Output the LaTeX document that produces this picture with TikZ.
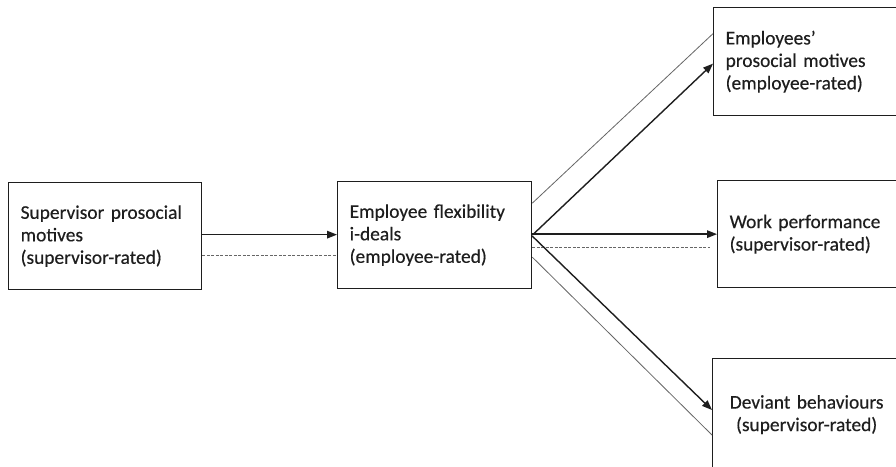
\documentclass[tikz,border=0pt]{standalone}
\usepackage{fontspec}
\setmainfont[FakeBold=0.35,WordSpace=0.75]{Carlito}
\usetikzlibrary{arrows.meta}
\definecolor{ink}{HTML}{1E1E1E}
\definecolor{thin}{HTML}{666666}
\tikzset{
  box/.style={draw=ink, line width=1.3pt, anchor=north west, inner xsep=12pt, inner ysep=0pt,
    minimum height=107pt, align=left, text=ink, font=\fontsize{19.4}{22.5}\selectfont},
  arr/.style={draw=ink, line width=1.4pt, -{Triangle[length=10pt,width=7.5pt]}},
  thinline/.style={draw=thin, line width=0.8pt},
  dashline/.style={draw=thin, line width=0.8pt, dash pattern=on 3pt off 1.5pt},
}
\begin{document}
\begin{tikzpicture}[x=1pt,y=-1pt]
\useasboundingbox (0,0) rectangle (896,466);
\fill[white] (0,0) rectangle (896,466);
\clip (0,0) rectangle (896,466);
\node[box, text width=169pt] (b1) at (8,182) {Supervisor prosocial\\motives\\(supervisor-rated)};
\node[box, text width=170pt] (b2) at (337,181) {Employee flexibility\\i-deals\\(employee-rated)};
\node[box, text width=170pt, minimum height=108pt] (b3) at (713,7) {Employees’\\prosocial motives\\(employee-rated)};
\node[box, text width=170pt] (b4) at (717,180) {Work performance\\(supervisor-rated)};
\node[box, text width=164pt, align=center, minimum height=112pt] (b5) at (712,358) {Deviant behaviours\\(supervisor-rated)};
% from b1 to b2
\draw[arr] ([yshift=1.5pt]b1.east) -- ([yshift=1.5pt]b1.east -| b2.west);
\draw[dashline] ([yshift=-19pt]b1.east) -- ([yshift=-19pt]b1.east -| b2.west);
% to b3
\draw[thinline] ([yshift=32pt]b2.east) -- ([yshift=28pt]b3.west);
\draw[arr] (b2.east) -- ([yshift=-2pt]b3.west);
% to b4
\draw[arr] ([yshift=1pt]b2.east) -- ([yshift=0pt]b4.west);
\draw[dashline, shorten >=7pt] ([yshift=-12pt]b2.east) -- ([yshift=-13pt]b4.west);
% to b5
\draw[arr] ([yshift=-1pt]b2.east) -- ([yshift=-52pt]b5.north west);
\draw[thinline] ([yshift=-22pt]b2.east) -- ([yshift=-77pt]b5.north west);
\end{tikzpicture}
\end{document}
